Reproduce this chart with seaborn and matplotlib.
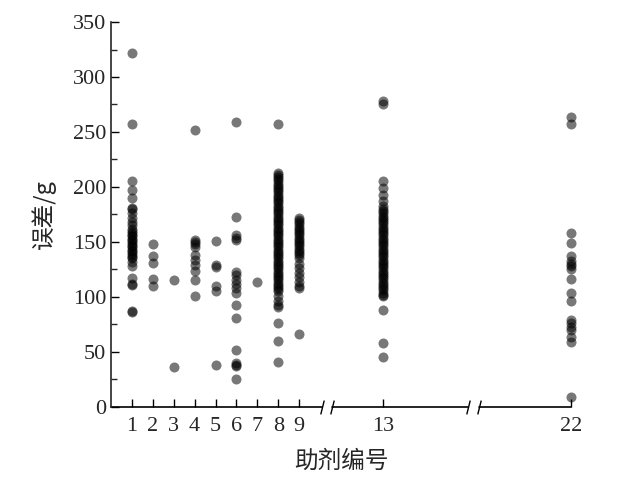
import pandas as pd
import numpy as np
import matplotlib.pyplot as plt
import seaborn as sns

# 误差 values read per 助剂编号
g1 = [322, 257, 205, 197, 190, 181, 180, 176, 172, 168, 165, 162, 160, 158, 156, 155, 153,
      152, 150, 148, 146, 145, 143, 142, 140, 138, 136, 135, 132, 128, 117, 112, 111, 87, 86]
g2 = [148, 137, 131, 116, 110]
g3 = [115, 36]
g4 = [252, 152, 150, 148, 145, 138, 134, 129, 124, 115, 101]
g5 = [151, 129, 127, 110, 105, 38]
g6 = [259, 173, 156, 154, 152, 123, 120, 115, 112, 108, 104, 93, 81, 52, 40, 38, 37, 25]
g7 = [114]
g8 = [257, 213, 211, 209, 207, 205, 203, 201, 199, 197, 195, 193, 191, 189, 187, 185, 183,
      181, 179, 177, 175, 173, 171, 169, 167, 165, 163, 161, 159, 157, 155, 153, 151, 149,
      147, 145, 143, 141, 139, 137, 135, 133, 131, 129, 127, 125, 123, 121, 119, 117, 115,
      113, 111, 109, 107, 105, 101, 96, 93, 91, 76, 60, 41]
g9 = [172, 170, 168, 166, 164, 162, 160, 158, 156, 154, 152, 150, 148, 146, 144, 142, 140,
      138, 135, 130, 126, 122, 118, 114, 110, 108, 66]
g13 = [278, 275, 205, 199, 193, 187, 183, 180, 178, 176, 174, 172, 170, 168, 166, 164, 162,
       160, 158, 156, 154, 152, 150, 148, 146, 144, 142, 140, 138, 136, 134, 132, 130, 128,
       126, 124, 122, 120, 118, 116, 114, 112, 110, 108, 106, 104, 102, 101, 88, 58, 45]
g22 = [264, 257, 158, 149, 137, 133, 130, 128, 125, 116, 104, 96, 79, 76, 73, 70, 64, 59, 9]

groups = {1: g1, 2: g2, 3: g3, 4: g4, 5: g5, 6: g6, 7: g7, 8: g8, 9: g9, 13: g13, 22: g22}
xticks = [1, 2, 3, 4, 5, 6, 7, 8, 9, 13, 22]

df = pd.DataFrame([(k, v) for k, vals in groups.items() for v in vals], columns=['id', 'err'])

sns.set_style('ticks')
plt.rcParams['font.family'] = ['Liberation Serif', 'Noto Sans CJK SC']

fig = plt.figure(figsize=(6.36, 4.9), dpi=100)
ax = fig.add_axes([0.1745, 0.1694, 0.7233, 0.7857])

sns.scatterplot(data=df, x='id', y='err', ax=ax, color='black', alpha=0.53, s=52,
                linewidth=0, clip_on=False, zorder=3)

ax.set_xlim(0, 22)
ax.set_ylim(0, 350)
ax.set_xticks(xticks)
ax.set_yticks(range(0, 351, 50))
ax.set_yticks(range(25, 350, 50), minor=True)
ax.tick_params(axis='both', direction='in', labelsize=16, width=1, color='black')
ax.tick_params(axis='both', which='major', length=6)
ax.tick_params(axis='y', which='minor', direction='in', length=4, width=1)
ax.tick_params(axis='x', pad=7)

ax.spines['top'].set_visible(False)
ax.spines['right'].set_visible(False)
ax.spines['bottom'].set_visible(False)
ax.spines['left'].set_linewidth(1.2)

# broken x axis
for a, b in [(0, 10.1), (10.57, 17.08), (17.6, 22)]:
    ax.plot([a, b], [0, 0], color='black', lw=1.2, clip_on=False, zorder=2)
ax.plot([10.1, 10.57, 17.08, 17.6], [0, 0, 0, 0], ls='', marker=[(-1, -4), (1, 4)],
        markersize=10, color='black', mew=1, clip_on=False)

ax.set_xlabel('助剂编号', fontsize=17, family=['Noto Sans CJK SC'], labelpad=10)
ax.set_ylabel('误差/g', fontsize=17, family=['Noto Sans CJK SC', 'Liberation Serif'], labelpad=12)

fig.savefig('out.png', dpi=100)
